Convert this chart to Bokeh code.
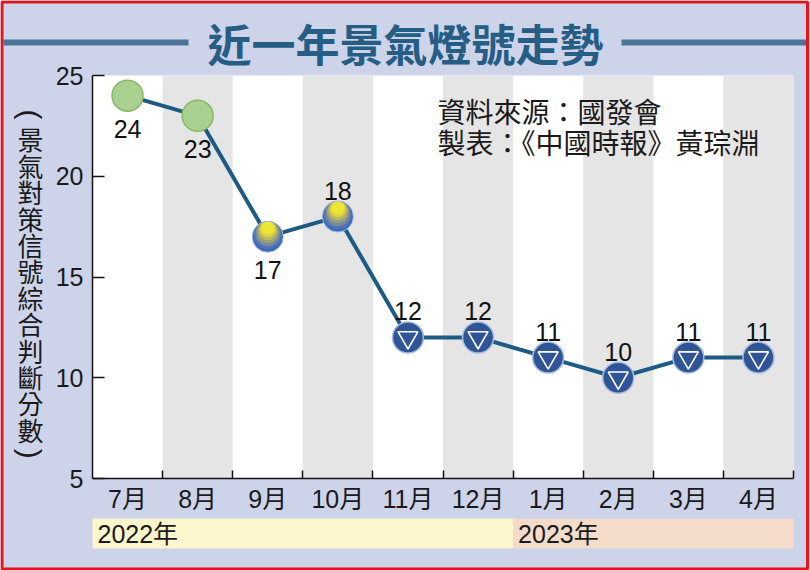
import math
from bokeh.plotting import figure
from bokeh.models import Range1d, FixedTicker, ColumnDataSource, BoxAnnotation, Label
from bokeh.transform import dodge
from bokeh.core.properties import value
from bokeh.embed import file_html
from bokeh.resources import INLINE

# ---------------- data ----------------
months = ["7月", "8月", "9月", "10月", "11月", "12月", "1月", "2月", "3月", "4月"]
scores = [24, 23, 17, 18, 12, 12, 11, 10, 11, 11]
lights = ["green", "green", "yellow-blue", "yellow-blue", "blue", "blue",
          "blue", "blue", "blue", "blue"]
label_pos = ["below", "below", "below", "above", "above", "above",
             "above", "above", "above", "above"]
years = ["2022年", "2023年"]
year_start = [0, 6]      # index of first month of each year
year_count = [6, 4]      # number of months in each year
y_ticks = [5, 10, 15, 20, 25]
title_text = "近一年景氣燈號走勢"
source_lines = ["資料來源：國發會", "製表：《中國時報》黃琮淵"]
y_label = "景氣對策信號綜合判斷分數"
y_label_brackets = ["(", ")"]

# ---------------- layout (pixels) ----------------
W, H = 810, 570
PL, PR, PT, PB = 92, 793, 75, 478          # plot area edges in the picture
XL, XR = -0.5, len(months) - 0.5
YB, YT = y_ticks[0], y_ticks[-1]
SX = (PR - PL) / (XR - XL)
SY = (PB - PT) / (YT - YB)


def X(px):
    return XL + (px - PL) / SX


def Y(py):
    return YT - (py - PT) / SY


BG = "#cdd4ea"
LATIN = "'Liberation Sans', 'Noto Sans CJK TC', sans-serif"
CJK = "'Noto Sans CJK TC', sans-serif"
xs = list(range(len(months)))

p = figure(width=W, height=H, output_backend="svg", toolbar_location=None,
           title=None, x_range=Range1d(X(0), X(W)), y_range=Range1d(Y(H), Y(0)),
           min_border=0)
p.background_fill_color = BG
p.border_fill_color = BG
p.outline_line_color = None
p.grid.visible = False

# white plot area
p.add_layout(BoxAnnotation(left=XL, right=XR, bottom=YB, top=YT,
                           fill_color="white", fill_alpha=1, line_color=None,
                           level="underlay"))
# alternating grey columns
grey_x = [x for x in xs if x % 2 == 1]
p.vbar(x=grey_x, width=1, top=YT, bottom=YB, fill_color="#e5e5e5", line_color=None)

# axes, fixed at the edges of the plot area
yax = p.yaxis[0]
yax.fixed_location = XL
yax.bounds = (YB, YT)
yax.ticker = FixedTicker(ticks=y_ticks)
yax.major_tick_in = 12
yax.major_tick_out = 0
yax.minor_tick_line_color = None
yax.axis_line_width = 1.5
yax.major_tick_line_width = 1.5
yax.axis_line_color = "#111111"
yax.major_tick_line_color = "#111111"
yax.major_label_text_font = LATIN
yax.major_label_text_font_size = "25px"
yax.major_label_text_color = "#1a1a1a"
yax.major_label_standoff = 9

xax = p.xaxis[0]
xax.fixed_location = YB
xax.bounds = (XL, XR)
xax.ticker = FixedTicker(ticks=xs, minor_ticks=[x + 0.5 for x in xs])
xax.major_label_overrides = {x: m for x, m in zip(xs, months)}
xax.major_tick_in = 0
xax.major_tick_out = 0
xax.minor_tick_in = 8
xax.minor_tick_out = 0
xax.minor_tick_line_width = 1.5
xax.minor_tick_line_color = "#111111"
xax.axis_line_width = 1.5
xax.axis_line_color = "#111111"
xax.major_label_text_font = LATIN
xax.major_label_text_font_size = "25px"
xax.major_label_text_color = "#1a1a1a"
xax.major_label_standoff = 6

# vertical axis title, one character per line, brackets turned sideways
chars = list(y_label)
STEP = 26.4
LX = X(30)
p.text(x=[LX] * len(chars), y=[Y(112 + STEP * (i + 1)) for i in range(len(chars))],
       text=chars, text_align="center", text_baseline="middle",
       text_font=value(CJK), text_font_size="26px", text_color="#1a1a1a")
p.text(x=[LX, LX], y=[Y(114), Y(110 + STEP * (len(chars) + 1))],
       text=y_label_brackets, angle=-math.pi / 2, text_align="center",
       text_baseline="middle", text_font=value("Liberation Sans"),
       text_font_size="30px", text_color="#1a1a1a")

# line
p.line(xs, scores, line_color="#1e5b84", line_width=4)

# markers
src = ColumnDataSource(dict(
    x=xs, y=scores, label=[str(s) for s in scores],
    yoff=[33 if pos == "below" else -26 for pos in label_pos]))


def sub(kind):
    idx = [i for i, l in enumerate(lights) if l == kind]
    return ColumnDataSource(dict(x=[xs[i] for i in idx], y=[scores[i] for i in idx]))


g = sub("green")
p.scatter("x", "y", source=g, size=31, fill_color="#a9d08e",
          line_color="#86b966", line_width=1.5)

yb = sub("yellow-blue")
layers = [(31, "#3a68c0"), (28, "#5374b0"), (25, "#76899c"), (22, "#99a07c"),
          (19, "#bdb95a"), (16, "#dcd442"), (13, "#eee634")]
for s, c in layers:
    off = (15.5 - s / 2) / SY
    p.scatter(x="x", y=dodge("y", off, range=p.y_range), source=yb, size=s,
              fill_color=c, line_color=None)
p.scatter("x", "y", source=yb, size=31, fill_color=None,
          line_color="#a6b9dc", line_width=1)

b = sub("blue")
p.scatter("x", "y", source=b, size=31, fill_color="#2f5597",
          line_color="#a9bbdc", line_width=1.5)
p.scatter("x", "y", source=b, size=20, marker="inverted_triangle",
          fill_color="#2f5597", line_color="white", line_width=1.6)

# value labels
p.text("x", "y", text="label", source=src, y_offset="yoff",
       text_align="center", text_baseline="middle",
       text_font=value(LATIN), text_font_size="25px", text_color="#111111")

# year bands under the month labels
band_colors = ["#fcf6cd", "#f4dcca"]
for yr, st, cnt, col in zip(years, year_start, year_count, band_colors):
    p.add_layout(BoxAnnotation(left=st - 0.5, right=st - 0.5 + cnt,
                               top=Y(518), bottom=Y(548), fill_color=col,
                               fill_alpha=1, line_color=None, level="underlay"))
    p.add_layout(Label(x=st - 0.5, y=Y(533), x_offset=5,
                       text=yr, text_baseline="middle", text_align="left",
                       text_font=LATIN, text_font_size="25px",
                       text_color="#1a1a1a"))

# title and its side rules
RULE = "#4c7497"
p.add_layout(BoxAnnotation(left=X(3), right=X(188), top=Y(39), bottom=Y(45),
                           fill_color=RULE, fill_alpha=1, line_color=None))
p.add_layout(BoxAnnotation(left=X(621), right=X(807), top=Y(39), bottom=Y(45),
                           fill_color=RULE, fill_alpha=1, line_color=None))
p.add_layout(Label(x=X(405), y=Y(42), text=title_text, text_align="center",
                   text_baseline="middle", text_font=CJK, text_font_size="44px",
                   text_font_style="bold", text_color="#265d85"))

# source notes
for i, t in enumerate(source_lines):
    p.add_layout(Label(x=X(437), y=Y(110 + 31 * i), text=t, text_align="left",
                       text_baseline="middle", text_font=CJK,
                       text_font_size="28px", text_color="#1a1a1a"))

# red frame round the whole picture
p.add_layout(BoxAnnotation(left=X(1.5), right=X(807), top=Y(1.5), bottom=Y(568.5),
                           fill_alpha=0, line_color="#e5141b", line_alpha=1,
                           line_width=3, level="overlay"))

open("out.html", "w").write(file_html(p, INLINE))
